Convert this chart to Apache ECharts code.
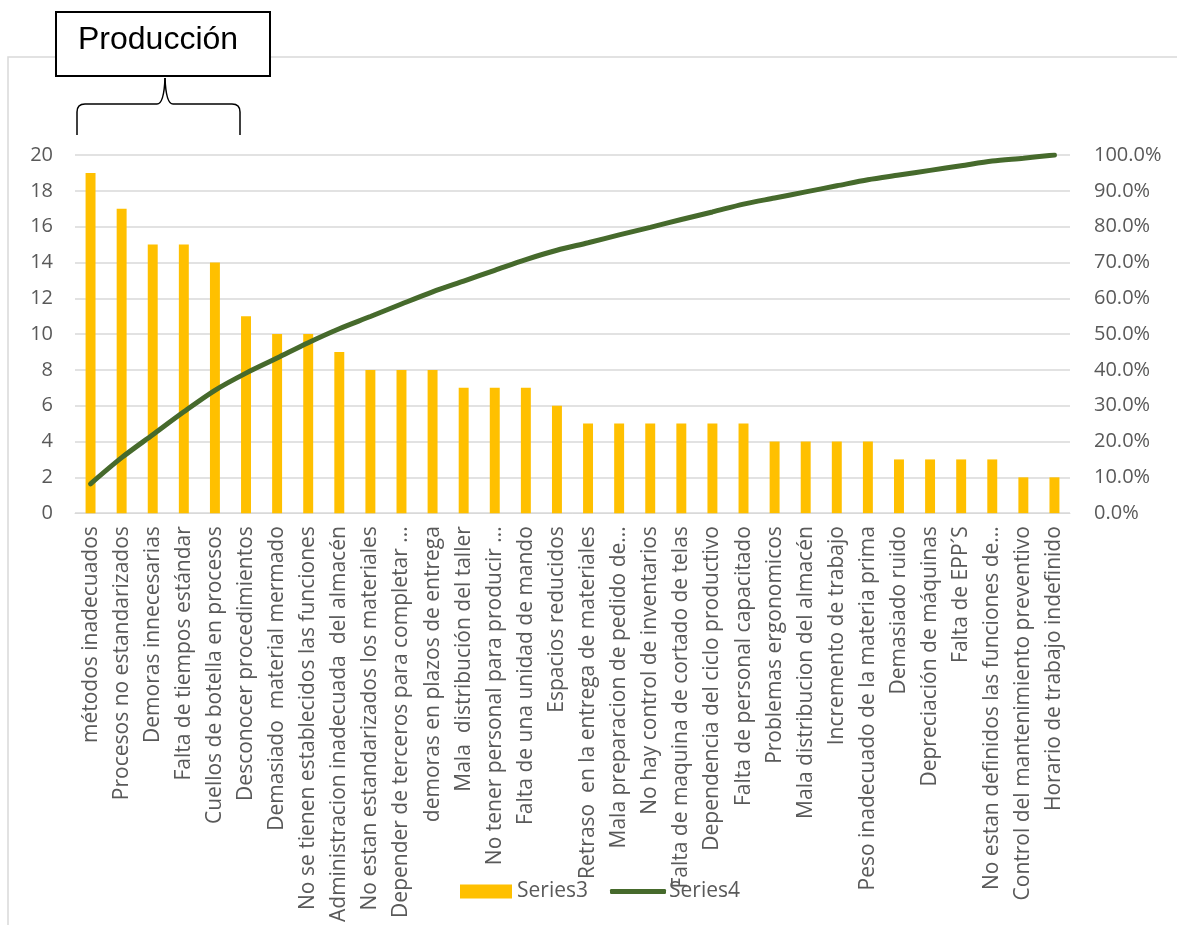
<!DOCTYPE html>
<html>
<head>
<meta charset="utf-8">
<script src="https://cdn.jsdelivr.net/npm/echarts@6/dist/echarts.min.js"></script>
<style>
  html, body { margin: 0; padding: 0; background: #fff; }
  #main { width: 1177px; height: 925px; }
</style>
</head>
<body>
<div id="main"></div>
<script>
// categorias (causas)
var causas = [
  'métodos inadecuados', 'Procesos no estandarizados', 'Demoras innecesarias',
  'Falta de tiempos estándar', 'Cuellos de botella en procesos', 'Desconocer procedimientos',
  'Demasiado  material mermado', 'No se tienen establecidos las funciones',
  'Administracion inadecuada  del almacén', 'No estan estandarizados los materiales',
  'Depender de terceros para completar ...', 'demoras en plazos de entrega',
  'Mala  distribución del taller', 'No tener personal para producir ...',
  'Falta de una unidad de mando', 'Espacios reducidos', 'Retraso  en la entrega de materiales',
  'Mala preparacion de pedido de...', 'No hay control de inventarios',
  'Falta de maquina de cortado de telas', 'Dependencia del ciclo productivo',
  'Falta de personal capacitado', 'Problemas ergonomicos', 'Mala distribucion del almacén',
  'Incremento de trabajo', 'Peso inadecuado de la materia prima', 'Demasiado ruido',
  'Depreciación de máquinas', 'Falta de EPP´S', 'No estan definidos las funciones de...',
  'Control del mantenimiento preventivo', 'Horario de trabajo indefinido'
];

// Series3: frecuencia
var series3 = [19, 17, 15, 15, 14, 11, 10, 10, 9, 8, 8, 8, 7, 7, 7, 6,
               5, 5, 5, 5, 5, 5, 4, 4, 4, 4, 3, 3, 3, 3, 2, 2];

// Series4: % acumulado
var series4 = [0.082, 0.155, 0.219, 0.283, 0.343, 0.391, 0.433, 0.476, 0.515, 0.549,
               0.584, 0.618, 0.648, 0.678, 0.708, 0.734, 0.755, 0.777, 0.798, 0.820,
               0.841, 0.863, 0.880, 0.897, 0.914, 0.931, 0.944, 0.957, 0.970, 0.983,
               0.991, 1.000];

var txt = '#595959';
var fnt = "'Open Sans', sans-serif";

var chart = echarts.init(document.getElementById('main'));

// llave bajo la caja
var braceStyle = { stroke: '#000', lineWidth: 1.5, fill: null };
var brace = [
  { type: 'line', shape: { x1: 77, y1: 135, x2: 77, y2: 112 } },
  { type: 'bezierCurve', shape: { x1: 77, y1: 112, x2: 85, y2: 104, cpx1: 77, cpy1: 104 } },
  { type: 'line', shape: { x1: 85, y1: 104, x2: 157, y2: 104 } },
  { type: 'bezierCurve', shape: { x1: 157, y1: 104, x2: 165, y2: 78, cpx1: 164, cpy1: 104 } },
  { type: 'bezierCurve', shape: { x1: 165, y1: 78, x2: 173, y2: 104, cpx1: 166, cpy1: 104 } },
  { type: 'line', shape: { x1: 173, y1: 104, x2: 232, y2: 104 } },
  { type: 'bezierCurve', shape: { x1: 232, y1: 104, x2: 240, y2: 112, cpx1: 240, cpy1: 104 } },
  { type: 'line', shape: { x1: 240, y1: 112, x2: 240, y2: 135 } }
].map(function (el) { el.z = 10; el.style = braceStyle; return el; });

var option = {
  animation: false,
  textStyle: { fontFamily: fnt },
  grid: { left: 75, right: 107, top: 155, bottom: 410, containLabel: false },
  legend: [
    {
      data: ['Series3'], left: 455, top: 876, padding: 5, itemWidth: 52, itemHeight: 14,
      icon: 'rect', textStyle: { color: txt, fontSize: 21, fontFamily: fnt }
    },
    {
      data: ['Series4'], left: 605, top: 876, padding: 5, itemWidth: 56, itemHeight: 5,
      icon: 'roundRect',
      textStyle: { color: txt, fontSize: 21, fontFamily: fnt, padding: [0, 0, 0, -2] }
    }
  ],
  xAxis: {
    type: 'category',
    data: causas,
    axisLine: { show: true, lineStyle: { color: '#d9d9d9' } },
    axisTick: { show: false },
    axisLabel: {
      rotate: 90, interval: 0, color: txt, fontSize: 21, fontFamily: fnt, margin: 13
    }
  },
  yAxis: [
    {
      type: 'value', min: 0, max: 20, interval: 2,
      axisLine: { show: false }, axisTick: { show: false },
      splitLine: { lineStyle: { color: '#d9d9d9', width: 1.5 } },
      axisLabel: { color: txt, fontSize: 20, fontFamily: fnt, margin: 22 }
    },
    {
      type: 'value', min: 0, max: 1, interval: 0.1,
      axisLine: { show: false }, axisTick: { show: false },
      splitLine: { show: false },
      axisLabel: {
        color: txt, fontSize: 20, fontFamily: fnt, margin: 24,
        formatter: function (v) { return (v * 100).toFixed(1) + '%'; }
      }
    }
  ],
  series: [
    {
      name: 'Series3', type: 'bar', data: series3, barWidth: '32%',
      itemStyle: { color: '#FFC000' }
    },
    {
      name: 'Series4', type: 'line', yAxisIndex: 1, data: series4,
      smooth: 0.3, showSymbol: false, symbol: 'none',
      lineStyle: { color: '#466A2C', width: 5, cap: 'round' },
      itemStyle: { color: '#466A2C' }
    }
  ],
  graphic: [
    // borde del area del grafico
    {
      type: 'polyline', z: 0,
      shape: { points: [[8, 925], [8, 57], [1177, 57]] },
      style: { stroke: '#d9d9d9', lineWidth: 1.5, fill: null }
    },
    // caja "Producción"
    {
      type: 'rect', z: 10,
      shape: { x: 56, y: 12, width: 214, height: 64 },
      style: { fill: '#fff', stroke: '#000', lineWidth: 2 }
    },
    {
      type: 'text', z: 11, x: 78, y: 24,
      style: { text: 'Producción', fill: '#000', fontSize: 32, fontFamily: "'Liberation Sans', Arial, sans-serif" }
    }
  ].concat(brace)
};

chart.setOption(option);
</script>
</body>
</html>
